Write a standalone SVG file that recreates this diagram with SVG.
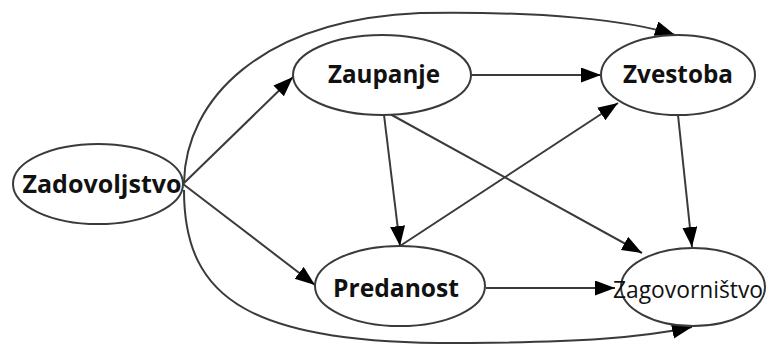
<svg xmlns="http://www.w3.org/2000/svg" width="766" height="345" viewBox="0 0 766 345">
<style>
.node ellipse{fill:#fff;stroke:#3a3a3a;stroke-width:2}
.node text{font-family:"Open Sans","Liberation Sans",sans-serif;font-weight:bold;font-size:25px;fill:#111;text-anchor:middle}
.node text.reg{font-weight:normal;font-size:23px}
.edges path{fill:none;stroke:#3a3a3a;stroke-width:2}
</style>
<defs>
<marker id="arr" markerUnits="userSpaceOnUse" markerWidth="22" markerHeight="16" refX="20" refY="7.5" orient="auto">
<path d="M0,0 L20,7.5 L0,15 z" fill="#000"/>
</marker>
</defs>
<rect width="766" height="345" fill="#fff"/>
<g class="edges">
<path d="M184,182 C186,100 260,20 420,13 C540,11 630,20 675,35" marker-end="url(#arr)"/>
<path d="M184,190 C184,300 250,345 470,343 C580,342 640,338 692,327" marker-end="url(#arr)"/>
<path d="M183,184 L293,77" marker-end="url(#arr)"/>
<path d="M183,184 L315,285" marker-end="url(#arr)"/>
<path d="M471,75 L601,75" marker-end="url(#arr)"/>
<path d="M384,115 L400,246" marker-end="url(#arr)"/>
<path d="M390,114 L642,253" marker-end="url(#arr)"/>
<path d="M400,246 L618,103" marker-end="url(#arr)"/>
<path d="M678,115 L692,247" marker-end="url(#arr)"/>
<path d="M486,288 L615,288" marker-end="url(#arr)"/>
</g>
<g id="zadovoljstvo" class="node"><ellipse cx="98" cy="184" rx="85" ry="40"/><text x="102" y="193" textLength="159" lengthAdjust="spacingAndGlyphs">Zadovoljstvo</text></g>
<g id="zaupanje" class="node"><ellipse cx="382" cy="75" rx="89" ry="40"/><text x="384" y="83" textLength="112" lengthAdjust="spacingAndGlyphs">Zaupanje</text></g>
<g id="zvestoba" class="node"><ellipse cx="678" cy="75" rx="77" ry="40"/><text x="678" y="83" textLength="110" lengthAdjust="spacingAndGlyphs">Zvestoba</text></g>
<g id="predanost" class="node"><ellipse cx="400" cy="286" rx="85" ry="40"/><text x="396" y="297" textLength="126" lengthAdjust="spacingAndGlyphs">Predanost</text></g>
<g id="zagovornistvo" class="node"><ellipse cx="693" cy="287" rx="72" ry="39"/><text class="reg" x="688" y="298" textLength="150" lengthAdjust="spacingAndGlyphs">Zagovorništvo</text></g>
</svg>
